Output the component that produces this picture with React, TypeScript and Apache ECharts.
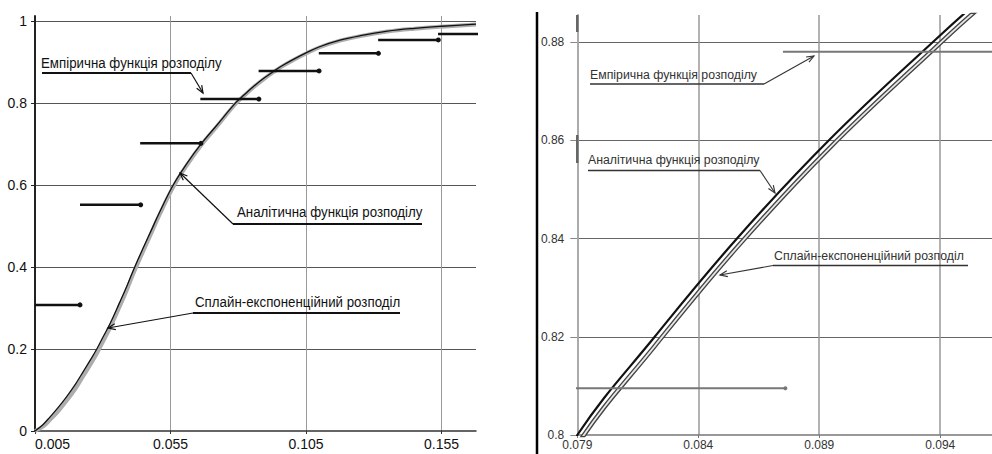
import React, { useEffect, useRef } from "react";
import * as echarts from "echarts";

// ---------- data ----------
// x positions of the sampled distribution curves
const curveX = [0.005, 0.008, 0.0105, 0.0135, 0.0167, 0.02, 0.0228, 0.0255, 0.0278, 0.03, 0.0327, 0.036, 0.039, 0.0413, 0.044, 0.0474, 0.051, 0.056, 0.061, 0.0663, 0.072, 0.079, 0.0822, 0.0856, 0.0894, 0.0937, 0.096, 0.1, 0.105, 0.11, 0.1175, 0.125, 0.135, 0.145, 0.155, 0.1677];
// analytic distribution function (black line)
const analyticF = [0.0, 0.016, 0.034, 0.057, 0.084, 0.115, 0.145, 0.174, 0.2, 0.228, 0.262, 0.31, 0.355, 0.392, 0.433, 0.482, 0.534, 0.6, 0.652, 0.7, 0.745, 0.8, 0.82, 0.84, 0.86, 0.88, 0.89, 0.905, 0.922, 0.937, 0.953, 0.964, 0.975, 0.982, 0.987, 0.992];
// spline-exponential distribution (grey line)
const splineF = [0.0, 0.011, 0.027, 0.048, 0.074, 0.104, 0.134, 0.163, 0.189, 0.217, 0.252, 0.3, 0.346, 0.384, 0.425, 0.475, 0.528, 0.595, 0.648, 0.697, 0.742, 0.798, 0.8181, 0.8382, 0.8583, 0.8784, 0.8885, 0.9035, 0.9205, 0.9358, 0.9518, 0.963, 0.974, 0.981, 0.986, 0.991];
// empirical distribution function steps
const stepStart = [0.005, 0.0216, 0.0438, 0.066, 0.0875, 0.1097, 0.1316, 0.1537];
const stepEnd = [0.0216, 0.044, 0.0662, 0.0876, 0.1098, 0.1317, 0.1538, 0.176];
const stepValue = [0.3075, 0.5516, 0.7015, 0.8095, 0.878, 0.921, 0.9536, 0.968];

// axis ranges / ticks
const leftXTickStart = 0.005;
const leftXMax = 0.1677;
const leftXInterval = 0.05;
const leftYMax = 1.012;
const leftYInterval = 0.2;
const rightXTickStart = 0.079;
const rightXMax = 0.09614;
const rightXInterval = 0.005;
const rightYMin = 0.8;
const rightYMax = 0.8855;
const rightYInterval = 0.02;

// annotation texts
const labelEmp = "Емпірична функція розподілу";
const labelAn = "Аналітична функція розподілу";
const labelSpl = "Сплайн-експоненційний розподіл";

const FONT = "'Liberation Sans', Arial, sans-serif";

type P = [number, number];

function arrowHead(tip: P, from: P, stroke: string, lw: number, len = 8, ang = 0.38) {
  const a = Math.atan2(tip[1] - from[1], tip[0] - from[0]);
  const p1: P = [tip[0] - len * Math.cos(a - ang), tip[1] - len * Math.sin(a - ang)];
  const p2: P = [tip[0] - len * Math.cos(a + ang), tip[1] - len * Math.sin(a + ang)];
  return {
    type: "polyline",
    silent: true,
    z: 100,
    shape: { points: [p1, tip, p2] },
    style: { stroke, lineWidth: lw, fill: "none" },
  };
}

function leader(points: P[], stroke: string, lw: number, ulw: number) {
  const items: any[] = [];
  const n = points.length;
  items.push({
    type: "polyline",
    silent: true,
    z: 100,
    shape: { points: points.slice(0, n - 1) },
    style: { stroke, lineWidth: ulw, fill: "none" },
  });
  items.push({
    type: "polyline",
    silent: true,
    z: 100,
    shape: { points: [points[n - 2], points[n - 1]] },
    style: { stroke, lineWidth: lw, fill: "none" },
  });
  items.push(arrowHead(points[n - 1], points[n - 2], stroke, lw));
  return items;
}

function text(t: string, x: number, y: number, size: number, color: string, scaleY = 1) {
  return {
    type: "text",
    silent: true,
    z: 100,
    x,
    y,
    scaleY,
    style: {
      text: t,
      fontSize: size,
      fontFamily: FONT,
      fill: color,
      align: "left",
      verticalAlign: "middle",
      textAlign: "left",
      textVerticalAlign: "middle",
    },
  };
}

export default function App() {
  const ref = useRef<HTMLDivElement>(null);

  useEffect(() => {
    if (!ref.current) return;
    const chart = echarts.init(ref.current, undefined, { renderer: "svg" });

    const curve = (ys: number[], off: number) => curveX.map((x, i) => [x - off, ys[i]]);

    const stepSeries = (xi: number, off: number, color: string, width: number, size: number) =>
      stepValue.map((v, i) => ({
        type: "line",
        xAxisIndex: xi,
        yAxisIndex: xi,
        silent: true,
        animation: false,
        clip: true,
        z: 4,
        symbol: "circle",
        symbolSize: size,
        showSymbol: true,
        lineStyle: { color, width },
        itemStyle: { color },
        data: [
          { value: [stepStart[i] - off, v], symbol: "none" },
          { value: [stepEnd[i] - off, v], symbol: "circle" },
        ],
      }));

    const smoothLine = (xi: number, data: number[][], color: string, width: number, z: number) => ({
      type: "line",
      xAxisIndex: xi,
      yAxisIndex: xi,
      silent: true,
      animation: false,
      clip: true,
      smooth: 0.4,
      showSymbol: false,
      symbol: "none",
      z,
      lineStyle: { color, width },
      data,
    });

    const option: any = {
      animation: false,
      backgroundColor: "#ffffff",
      grid: [
        { left: 35, top: 16, width: 441, height: 415, outerBoundsMode: "none", containLabel: false },
        { left: 577.3, top: 15, width: 414.7, height: 420, outerBoundsMode: "none", containLabel: false },
      ],
      xAxis: [
        {
          type: "value",
          gridIndex: 0,
          min: 0,
          max: leftXMax - leftXTickStart,
          interval: leftXInterval,
          axisLine: { show: true, onZero: false, lineStyle: { color: "#333", width: 1.5 } },
          axisTick: { show: true, length: 3, lineStyle: { color: "#333" } },
          axisLabel: {
            margin: 6,
            fontSize: 14,
            fontFamily: FONT,
            color: "#111",
            showMaxLabel: false,
            alignMinLabel: "left",
            formatter: (v: number) => (v + leftXTickStart).toFixed(3),
          },
          splitLine: { show: true, showMinLine: false, showMaxLine: false, lineStyle: { color: "#999", width: 1 } },
        },
        {
          type: "value",
          gridIndex: 1,
          min: 0,
          max: rightXMax - rightXTickStart,
          interval: rightXInterval,
          axisLine: { show: true, onZero: false, lineStyle: { color: "#777", width: 1.5 } },
          axisTick: { show: true, length: 3, lineStyle: { color: "#777" } },
          axisLabel: {
            margin: 4,
            fontSize: 12,
            fontFamily: FONT,
            color: "#333",
            showMaxLabel: false,
            formatter: (v: number) => (v + rightXTickStart).toFixed(3),
          },
          splitLine: { show: true, showMinLine: false, showMaxLine: false, lineStyle: { color: "#999", width: 1.5 } },
        },
      ],
      yAxis: [
        {
          type: "value",
          gridIndex: 0,
          min: 0,
          max: leftYMax,
          interval: leftYInterval,
          axisLine: { show: true, onZero: false, lineStyle: { color: "#222", width: 2 } },
          axisTick: { show: true, length: 4, lineStyle: { color: "#222" } },
          axisLabel: {
            margin: 8,
            fontSize: 14,
            fontFamily: FONT,
            color: "#111",
            showMaxLabel: false,
            formatter: (v: number) => String(Math.round(v * 10) / 10),
          },
          splitLine: { show: true, showMinLine: false, showMaxLine: false, lineStyle: { color: "#555", width: 1 } },
        },
        {
          type: "value",
          gridIndex: 1,
          min: rightYMin,
          max: rightYMax,
          interval: rightYInterval,
          axisLine: { show: true, onZero: false, lineStyle: { color: "#aaa", width: 2 } },
          axisTick: { show: true, length: 7, lineStyle: { color: "#888" } },
          axisLabel: {
            margin: 13,
            fontSize: 12,
            fontFamily: FONT,
            color: "#333",
            showMaxLabel: false,
            formatter: (v: number) => String(Math.round(v * 100) / 100),
          },
          splitLine: { show: true, showMinLine: false, showMaxLine: false, lineStyle: { color: "#666", width: 1 } },
        },
      ],
      series: [
        smoothLine(0, curve(splineF, leftXTickStart), "#adadad", 4, 2),
        smoothLine(0, curve(analyticF, leftXTickStart), "#111", 1.3, 3),
        ...stepSeries(0, leftXTickStart, "#111", 2.5, 5),
        smoothLine(1, curve(splineF, rightXTickStart), "#444", 4.5, 2),
        smoothLine(1, curve(splineF, rightXTickStart), "#e8e8e8", 1.8, 3),
        smoothLine(1, curve(analyticF, rightXTickStart), "#111", 2.2, 3),
        ...stepSeries(1, rightXTickStart, "#777", 2, 4),
      ],
      graphic: [
        // left chart annotations
        text(labelEmp, 41, 63, 13.3, "#111", 1.15),
        ...leader([[42, 73], [191, 73], [203, 93]], "#111", 1.2, 2),
        text(labelAn, 237, 212, 13.3, "#111", 1.15),
        ...leader([[422, 224], [233, 224], [180, 173]], "#111", 1.2, 2),
        text(labelSpl, 195, 302, 13.3, "#111", 1.15),
        ...leader([[400, 313], [193, 313], [108, 328]], "#111", 1.2, 2),
        // right chart frame & annotations
        { type: "line", silent: true, z: 100, shape: { x1: 537, y1: 12, x2: 537, y2: 454 }, style: { stroke: "#000", lineWidth: 2.5 } },
        { type: "rect", silent: true, z: 100, shape: { x: 576, y: 15, width: 2.5, height: 17 }, style: { fill: "#666" } },
        { type: "rect", silent: true, z: 100, shape: { x: 576, y: 135, width: 2.5, height: 28 }, style: { fill: "#666" } },
        text(labelEmp, 590, 75, 12.3, "#333"),
        ...leader([[590, 84], [764, 84], [814, 56]], "#333", 1.1, 1.5),
        text(labelAn, 588, 160, 12.3, "#333"),
        ...leader([[588, 170.5], [760, 170.5], [775, 193]], "#333", 1.1, 1.5),
        text(labelSpl, 774, 256, 12.3, "#333"),
        ...leader([[968, 265.5], [773, 265.5], [720, 275]], "#333", 1.1, 1.5),
      ],
    };

    chart.setOption(option);
    return () => chart.dispose();
  }, []);

  return (
    <div
      ref={ref}
      style={{ position: "fixed", left: 0, top: 0, width: 992, height: 454, background: "#fff" }}
    />
  );
}
